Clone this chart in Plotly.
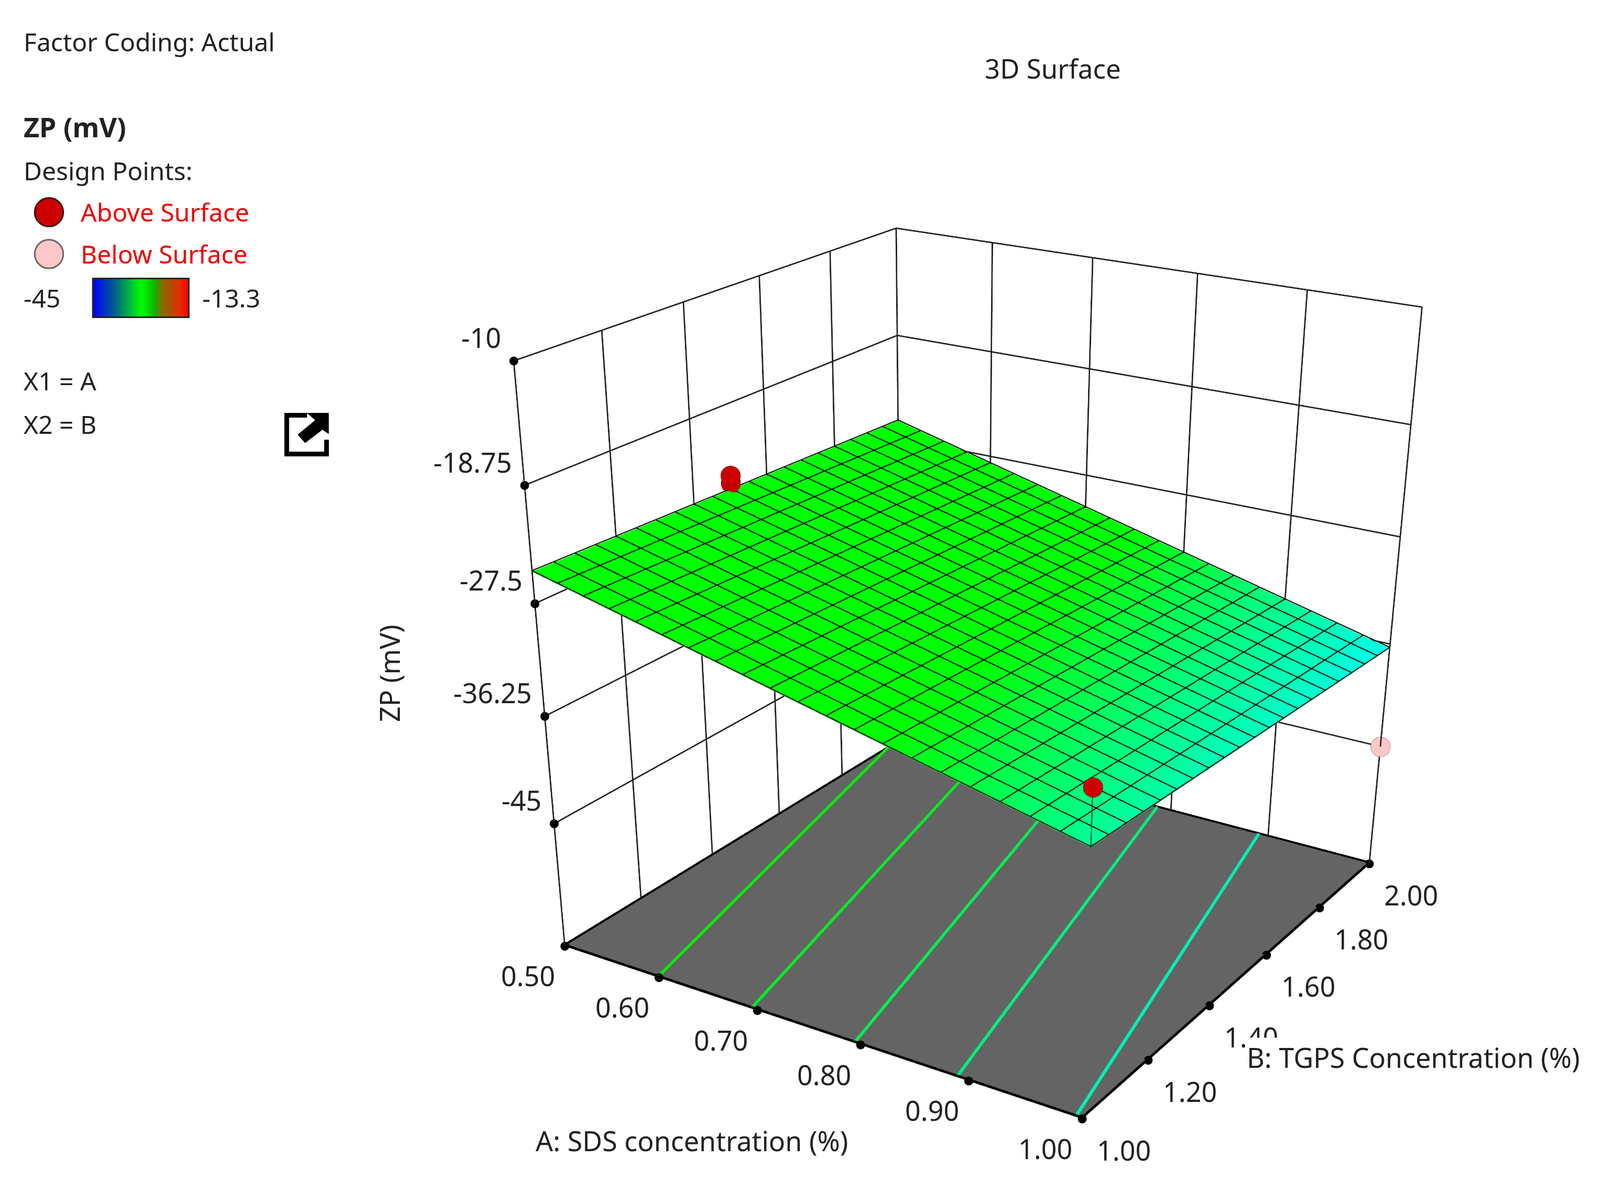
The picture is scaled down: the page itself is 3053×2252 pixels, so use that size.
import plotly.graph_objects as go

W, H = 3053, 2252
K = 3053 / 1568
MARGIN = 8

a_ticks = [0.5, 0.6, 0.7, 0.8, 0.9, 1.0]
b_ticks = [1.0, 1.2, 1.4, 1.6, 1.8, 2.0]
z_ticks = [-45, -36.25, -27.5, -18.75, -10]
a_labels = ["0.50", "0.60", "0.70", "0.80", "0.90", "1.00"]
b_labels = ["1.00", "1.20", "1.40", "1.60", "1.80", "2.00"]
z_labels = ["-45", "-36.25", "-27.5", "-18.75", "-10"]
z_floor = -55.5
surf_a = [0.5, 1.0]
surf_b = [1.0, 2.0]
surf_z = [[-25.1, -34.7], [-26.0, -36.6]]
above_a = [0.5, 0.5, 1.0]
above_b = [1.5, 1.5, 1.0]
above_z = [-25.0, -24.4, -30.4]
above_foot = [-25.55, -25.55, -34.7]
below_a = [1.0]
below_b = [2.0]
below_z = [-45.0]
level_a_start = [0.6, 0.695, 0.795, 0.89, 0.995]
level_a_end = [0.5, 0.591, 0.691, 0.786, 0.891]
level_b_end = [1.96, 2.0, 2.0, 2.0, 2.0]
level_colors = ["#00f000", "#00f020", "#00f050", "#00f080", "#00f0b0"]
legend_values = [-45, -37, -29.15, -21, -13.3]

CY = 2000
LH = 2 * CY
LW = W - 2 * MARGIN
sx_dom = 1806.08 - MARGIN

FONT = "Noto Sans"
TXT = "#222222"
TS = 48
AS = 52

fig = go.Figure()
flat = dict(ambient=1, diffuse=0, specular=0, roughness=1, fresnel=0)
fig.add_trace(go.Surface(x=surf_a, y=surf_b, z=surf_z, cmin=-45, cmax=-13.3, showscale=False,
    colorscale=[[0, "#0000ff"], [0.25, "#00ffff"], [0.43, "#00ff00"], [0.68, "#00ff00"], [0.85, "#c04000"], [1, "#ff0000"]],
    lighting=flat))
fig.add_trace(go.Surface(x=surf_a, y=surf_b, z=[[z_floor + 0.05] * 2] * 2, showscale=False,
    colorscale=[[0, "#646464"], [1, "#646464"]], lighting=flat))

def line3d(xs, ys, zs, color, width):
    fig.add_trace(go.Scatter3d(x=xs, y=ys, z=zs, mode="lines", line=dict(color=color, width=width), showlegend=False,
                               connectgaps=False))

def nets(segs, color, width):
    xs, ys, zs = [], [], []
    for (p, q) in segs:
        xs += [p[0], q[0], None]; ys += [p[1], q[1], None]; zs += [p[2], q[2], None]
    line3d(xs, ys, zs, color, width)

segs = []
for a in a_ticks:
    segs.append(((a, 2.0, z_floor), (a, 2.0, -10)))
for b in b_ticks:
    segs.append(((0.5, b, z_floor), (0.5, b, -10)))
for z in z_ticks:
    segs.append(((0.5, 1.0, z), (0.5, 2.0, z)))
    segs.append(((0.5, 2.0, z), (1.0, 2.0, z)))
nets(segs, "#222222", 5)

def plane(a, b):
    u = (a - 0.5) / 0.5
    v = b - 1.0
    return (1 - u) * (1 - v) * surf_z[0][0] + u * (1 - v) * surf_z[0][1] + (1 - u) * v * surf_z[1][0] + u * v * surf_z[1][1] + 0.08
segs = []
for i in range(21):
    a = 0.5 + i * 0.025
    b = 1.0 + i * 0.05
    segs.append(((a, 1.0, plane(a, 1.0)), (a, 2.0, plane(a, 2.0))))
    segs.append(((0.5, b, plane(0.5, b)), (1.0, b, plane(1.0, b))))
nets(segs, "#0c1c0c", 4)

for s, e, be, c in zip(level_a_start, level_a_end, level_b_end, level_colors):
    line3d([s, e], [1.0, be], [z_floor + 0.1] * 2, c, 12)
line3d([0.5, 1, 1, 0.5, 0.5], [1, 1, 2, 2, 1], [z_floor + 0.1] * 5, "#000000", 9)
fig.add_trace(go.Scatter3d(x=a_ticks + [1.0] * 6 + [0.5] * 5, y=[1.0] * 6 + b_ticks + [1.0] * 5,
                           z=[z_floor] * 12 + z_ticks, mode="markers",
                           marker=dict(color="#000000", size=9), showlegend=False))
for a, b, z, zs in zip(above_a, above_b, above_z, above_foot):
    line3d([a, a], [b, b], [z, zs], "#222222", 3)
fig.add_trace(go.Scatter3d(x=above_a, y=above_b, z=above_z, mode="markers", showlegend=False,
                           marker=dict(color="#cc0000", size=20, line=dict(color="#400000", width=4))))
fig.add_trace(go.Scatter3d(x=below_a, y=below_b, z=below_z, mode="markers", showlegend=False,
                           marker=dict(color="#ffc8c8", size=20, line=dict(color="#555555", width=4))))

fig.add_trace(go.Heatmap(x=[0, 1, 2, 3, 4], y=[0, 1], z=[legend_values] * 2, showscale=False,
    zsmooth="best", xaxis="x", yaxis="y", zmin=-45, zmax=-13.3,
    colorscale=[[0, "#0000ff"], [0.25, "#006a80"], [0.5, "#00ff00"], [0.65, "#10b000"], [0.72, "#807000"], [0.9, "#e03000"], [1, "#ff0000"]]))

def paper(xp, yp):
    return (xp * K - MARGIN) / LW, 1 - (yp * K - MARGIN) / LH

ann = []
def t(xp, yp, s, color=TXT, anchor="left", size=TS, angle=0, bg=None):
    x, y = paper(xp, yp)
    ann.append(dict(x=x, y=y, xref="paper", yref="paper", text=s, showarrow=False, xanchor=anchor, yanchor="middle",
                    font=dict(family=FONT, size=size, color=color), textangle=angle, bgcolor=bg))
t(22, 41, "Factor Coding: Actual")
t(22, 124, "<b>ZP (mV)</b>", size=AS)
t(22, 167, "Design Points:")
t(78, 208, "Above Surface", "#ee0000")
t(78, 249, "Below Surface", "#ee0000")
t(22, 292, "-45")
t(197, 292, "-13.3")
t(22, 373, "X1 = A")
t(22, 416, "X2 = B")
t(1032, 67, "3D Surface", anchor="center", size=51)
t(381, 660, "ZP (mV)", anchor="center", angle=-90, size=AS)
t(678, 1118, "A: SDS concentration (%)", anchor="center", size=AS)
t(1385, 1036, "B: TGPS Concentration (%)", anchor="center", bg="#ffffff", size=AS)

sc_ann = []
fnt = dict(family=FONT, size=AS, color=TXT)
for v, s in zip(a_ticks, a_labels):
    sc_ann.append(dict(x=v, y=1.0, z=z_floor, text=s, showarrow=False, xshift=-70, yshift=-56, font=fnt))
for v, s in zip(b_ticks, b_labels):
    sc_ann.append(dict(x=1.0, y=v, z=z_floor, text=s, showarrow=False, xshift=80, yshift=-59, font=fnt))
for v, s in zip(z_ticks, z_labels):
    sc_ann.append(dict(x=0.5, y=1.0, z=v, text=s, showarrow=False, xanchor="right", xshift=-22, yshift=45, font=fnt))

def shape_path(pts_, **kw):
    d = "M" + " L".join(f"{paper(*q)[0]:.5f},{paper(*q)[1]:.5f}" for q in pts_)
    return dict(type="path", path=d, xref="paper", yref="paper", **kw)

def circ(xc, yc, r, fill, line):
    x0, y0 = paper(xc - r, yc - r); x1, y1 = paper(xc + r, yc + r)
    return dict(type="circle", xref="paper", yref="paper", x0=x0, y0=y0, x1=x1, y1=y1, fillcolor=fill, line=dict(color=line, width=3))

x0, y0 = paper(91, 273); x1, y1 = paper(185, 311)
shapes = [
    circ(48, 208, 14, "#cc0000", "#331111"),
    circ(48, 249, 14, "#ffc8c8", "#666666"),
    dict(type="rect", xref="paper", yref="paper", x0=x0, y0=y0, x1=x1, y1=y1, line=dict(color="#222222", width=3)),
    shape_path([(301, 407), (281, 407), (281, 445), (320, 445), (320, 431)], line=dict(color="#000000", width=9)),
    shape_path([(301, 405), (322, 405), (322, 425), (316, 421), (299, 434), (292, 426), (309, 412)], line=dict(color="#000000", width=1), fillcolor="#000000"),
]

ax = dict(showbackground=False, showgrid=False, showline=False, zeroline=False, showticklabels=False, ticks="",
          showspikes=False, title=dict(text=""))
fig.update_layout(
    width=LW, height=LH, margin=dict(l=0, r=0, t=0, b=0), paper_bgcolor="white", plot_bgcolor="white",
    showlegend=False, annotations=ann, shapes=shapes,
    xaxis=dict(domain=[x0, x1], visible=False, range=[0, 4]),
    yaxis=dict(domain=[y1, y0], visible=False, range=[0, 1]),
    scene=dict(
        domain=dict(x=[max((2 * sx_dom - LW) / LW, 0), 1], y=[0, 1]),
        xaxis=dict(ax, range=[0.4995, 1.0005], tickmode="array", tickvals=a_ticks),
        yaxis=dict(ax, range=[0.999, 2.001], tickmode="array", tickvals=b_ticks),
        zaxis=dict(ax, range=[z_floor - 0.05, -9.95], tickmode="array", tickvals=z_ticks),
        aspectmode="manual", aspectratio=dict(x=1.002, y=1.0153, z=0.9816),
        camera=dict(eye=dict(x=2.0596, y=-3.2950, z=1.5161), center=dict(x=0.1582, y=-0.3493, z=-0.5627), up=dict(x=0, y=0, z=1)),
        annotations=sc_ann,
    ),
)
fig.write_html("out.html")
